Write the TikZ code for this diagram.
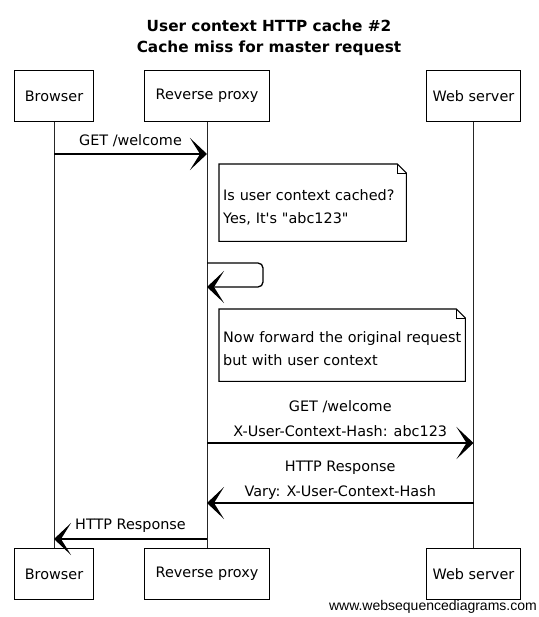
\documentclass[tikz,border=0pt]{standalone}
\usepackage{fontspec}
\setmainfont{DejaVu Sans}
\newfontfamily\wmfont{Liberation Sans}
\usetikzlibrary{arrows.meta}
\begin{document}
\begin{tikzpicture}[x=1pt,y=-1pt,
  txt/.style={font=\fontsize{14.4}{25}\selectfont},
  actor/.style={draw,line width=1.1pt,minimum height=51pt,inner sep=0pt,txt},
  life/.style={line width=0.9pt,draw=black!85},
  msg/.style={line width=1.3pt,-{Stealth[length=17pt,width=32pt,inset=10pt]}},
  lbl/.style={txt,inner sep=0pt,align=center},
  notetext/.style={txt,font=\fontsize{14.4}{23}\selectfont,inner xsep=4pt,inner ysep=0pt,align=left,anchor=north west},
  notebox/.style={line width=1.1pt,draw=black}]
\useasboundingbox (0,0) rectangle (538,617);
% title
\node[font=\bfseries\fontsize{15.3}{17}\selectfont] (t1) at (269,26) {User context HTTP cache \#2};
\node[font=\bfseries\fontsize{15.3}{17}\selectfont] (t2) at (269,48) {Cache miss for master request};
% participants
\node[actor,minimum width=79pt] (bT) at (54,96) {Browser};
\node[actor,minimum width=125pt] (pT) at (207,96) {Reverse proxy};
\node[actor,minimum width=94pt] (sT) at (473.5,96) {Web server};
\node[actor,minimum width=79pt] (bB) at (54,574) {Browser};
\node[actor,minimum width=125pt] (pB) at (207,574) {Reverse proxy};
\node[actor,minimum width=94pt] (sB) at (473.5,574) {Web server};
% lifelines
\draw[life] (bT) -- (bB);
\draw[life] (pT) -- (pB);
\draw[life] (sT) -- (sB);
% message 1
\draw[msg] (bT |- 0,154) -- node[lbl,above=7pt] (l1) {GET /welcome} (pT |- 0,154);
% note 1
\node[notetext,minimum width=187pt,minimum height=77pt,text width=179pt] (n1) at (219,164)
  {\rule{0pt}{20pt}\mbox{Is user context cached?}\\\mbox{Yes, It\textquotesingle s \textquotedbl abc123\textquotedbl}};
\draw[notebox] (n1.north west) -- ([xshift=-9pt]n1.north east) -- ([yshift=-9pt]n1.north east)
  -- (n1.south east) -- (n1.south west) -- cycle;
\draw[line width=0.8pt] ([xshift=-9pt]n1.north east) -- ([xshift=-9pt,yshift=-9pt]n1.north east) -- ([yshift=-9pt]n1.north east);
% self message
\coordinate (s1) at (263,263);
\draw[msg,rounded corners=5pt] (pT |- 0,263) -- (s1) -- (s1 |- 0,287) -- (pT |- 0,287);
% note 2
\node[notetext,minimum width=246pt,minimum height=72pt,text width=238pt] (n2) at (219,309)
  {\rule{0pt}{18pt}\mbox{Now forward the original request}\\\mbox{but with user context}};
\draw[notebox] (n2.north west) -- ([xshift=-9pt]n2.north east) -- ([yshift=-9pt]n2.north east)
  -- (n2.south east) -- (n2.south west) -- cycle;
\draw[line width=0.8pt] ([xshift=-9pt]n2.north east) -- ([xshift=-9pt,yshift=-9pt]n2.north east) -- ([yshift=-9pt]n2.north east);
% message 3
\draw[msg] (pT |- 0,443) -- node[lbl,above=6pt] (l3) {GET /welcome\\X-User-Context-Hash: abc123} (sT |- 0,443);
% message 4
\draw[msg] (sT |- 0,503) -- node[lbl,above=3pt] (l4) {HTTP Response\\Vary: X-User-Context-Hash} (pT |- 0,503);
% message 5
\draw[msg] (pT |- 0,539) -- node[lbl,above=6pt] (l5) {HTTP Response} (bT |- 0,539);
% watermark
\node[font=\wmfont\fontsize{14}{15}\selectfont,anchor=east,inner sep=0pt] (wm) at (537,607) {www.websequencediagrams.com};
\end{tikzpicture}
\end{document}
